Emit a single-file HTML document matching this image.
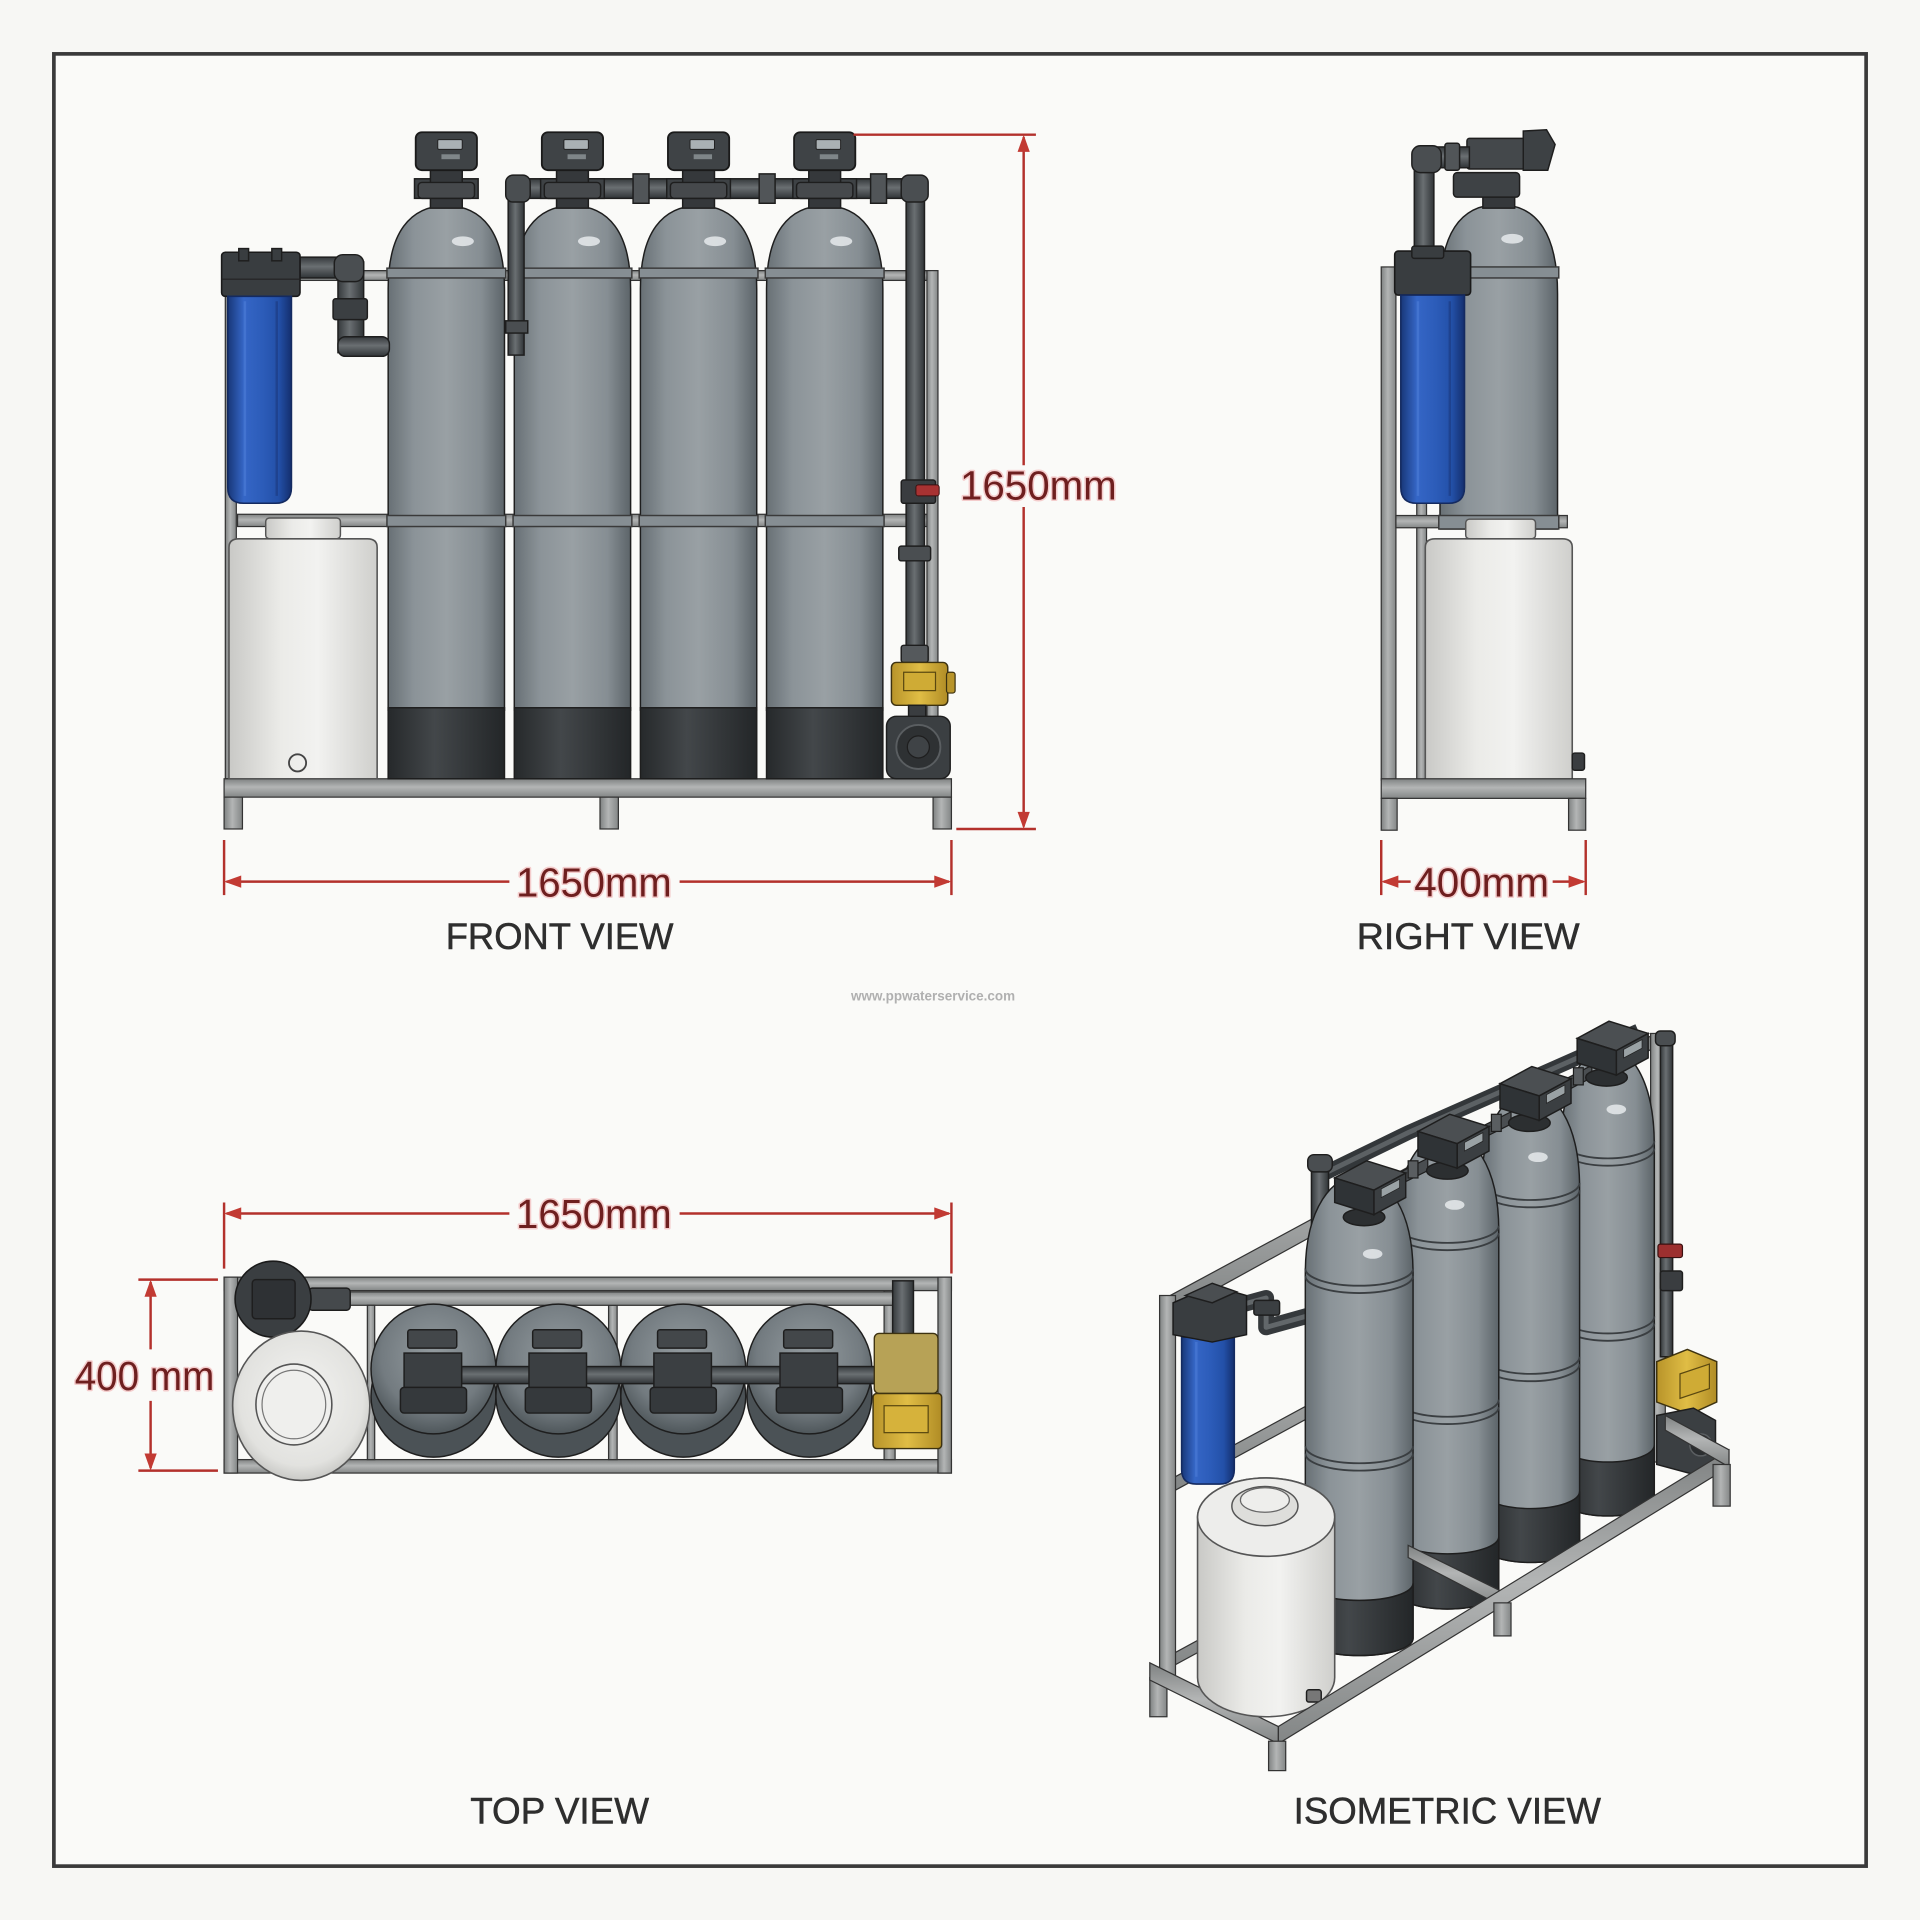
<!DOCTYPE html>
<html><head><meta charset="utf-8"><title>Water treatment system - views</title>
<style>
html,body{margin:0;padding:0;background:#f7f7f4;}
svg{display:block;}
.lbl{font-family:"Liberation Sans",Arial,sans-serif;font-size:30px;fill:#2e2e2e;stroke:#2e2e2e;stroke-width:0.4px;}
.dim{font-family:"Liberation Sans",Arial,sans-serif;font-size:33px;fill:#6e1f1f;stroke:#f4cccc;stroke-width:2.5px;paint-order:stroke;stroke-linejoin:round;}
.dl{stroke:#b3312c;stroke-width:2;fill:none;}
.ah{fill:#c23a33;}
.fr{stroke:#333;stroke-width:1;}
.ol{stroke:#1e1e1e;stroke-width:1.2;}
</style></head><body>
<svg width="1920" height="1920" viewBox="0 0 1568 1568">
<defs>
<linearGradient id="tg" x1="0" y1="0" x2="1" y2="0">
<stop offset="0" stop-color="#687075"/><stop offset="0.22" stop-color="#8b9398"/><stop offset="0.5" stop-color="#99a0a4"/><stop offset="0.8" stop-color="#868e93"/><stop offset="1" stop-color="#5c6469"/>
</linearGradient>
<linearGradient id="dg" x1="0" y1="0" x2="1" y2="0">
<stop offset="0" stop-color="#26292b"/><stop offset="0.4" stop-color="#43474a"/><stop offset="1" stop-color="#232628"/>
</linearGradient>
<linearGradient id="bg" x1="0" y1="0" x2="1" y2="0">
<stop offset="0" stop-color="#183778"/><stop offset="0.25" stop-color="#3566c6"/><stop offset="0.55" stop-color="#2c5cb9"/><stop offset="0.8" stop-color="#2350a8"/><stop offset="1" stop-color="#142f6e"/>
</linearGradient>
<linearGradient id="wg" x1="0" y1="0" x2="1" y2="0">
<stop offset="0" stop-color="#c9c9c6"/><stop offset="0.35" stop-color="#ebebe8"/><stop offset="0.6" stop-color="#f2f2f0"/><stop offset="1" stop-color="#cfcfcc"/>
</linearGradient>
<linearGradient id="fh" x1="0" y1="0" x2="0" y2="1">
<stop offset="0" stop-color="#7f8282"/><stop offset="0.45" stop-color="#b3b5b5"/><stop offset="1" stop-color="#838686"/>
</linearGradient>
<linearGradient id="fv" x1="0" y1="0" x2="1" y2="0">
<stop offset="0" stop-color="#7f8282"/><stop offset="0.45" stop-color="#b3b5b5"/><stop offset="1" stop-color="#838686"/>
</linearGradient>
<linearGradient id="ph" x1="0" y1="0" x2="0" y2="1">
<stop offset="0" stop-color="#35393c"/><stop offset="0.45" stop-color="#6a6f72"/><stop offset="1" stop-color="#303437"/>
</linearGradient>
<linearGradient id="pv" x1="0" y1="0" x2="1" y2="0">
<stop offset="0" stop-color="#35393c"/><stop offset="0.45" stop-color="#6a6f72"/><stop offset="1" stop-color="#303437"/>
</linearGradient>
<linearGradient id="yg" x1="0" y1="0" x2="1" y2="0">
<stop offset="0" stop-color="#b8942a"/><stop offset="0.5" stop-color="#e0bd45"/><stop offset="1" stop-color="#b08c25"/>
</linearGradient>
<radialGradient id="rg" cx="0.5" cy="0.4" r="0.6">
<stop offset="0" stop-color="#949ca0"/><stop offset="0.7" stop-color="#737b80"/><stop offset="1" stop-color="#4f575b"/>
</radialGradient>
<radialGradient id="rw" cx="0.5" cy="0.45" r="0.6">
<stop offset="0" stop-color="#f4f4f2"/><stop offset="0.75" stop-color="#e2e2df"/><stop offset="1" stop-color="#bdbdba"/>
</radialGradient>

<g id="fhead">
<rect x="-26" y="146" width="52" height="16" fill="#3e4245" class="ol"/>
<rect x="-13" y="138" width="26" height="32" fill="#35383b" class="ol"/>
<rect x="-23" y="149" width="46" height="13" rx="3" fill="#46494c" class="ol"/>
<rect x="-25" y="108" width="50" height="31" rx="5" fill="#3f4346" stroke="#1a1a1a" stroke-width="1.5"/>
<rect x="-7" y="114" width="20" height="8" rx="1" fill="#aab1b4" stroke="#222" stroke-width="0.8"/>
<rect x="-4" y="126" width="15" height="4" fill="#7f8689"/>
</g>

<g id="ihead">
<ellipse cx="-6" cy="24" rx="17" ry="7" fill="#2c2f31" class="ol"/>
<polygon points="-30,-8 -4,-22 28,-12 2,2" fill="#4b4f52" class="ol"/>
<polygon points="2,2 28,-12 28,8 2,22" fill="#3b3f42" class="ol"/>
<polygon points="-30,-8 2,2 2,22 -30,12" fill="#2f3336" class="ol"/>
<polygon points="8,1 23,-7 23,0 8,8" fill="#9aa2a5" stroke="#222" stroke-width="0.6"/>
</g>

<g id="ttop">
<ellipse cx="0" cy="22" rx="51" ry="50" fill="#4b5256" class="ol"/>
<ellipse cx="0" cy="0" rx="51" ry="53" fill="url(#rg)" class="ol"/>
</g>
<g id="thead">
<rect x="-21" y="-32" width="40" height="15" rx="2" fill="#43474a" class="ol"/>
<rect x="-24" y="-13" width="47" height="40" fill="#3b3f42" class="ol"/>
<rect x="-27" y="15" width="54" height="21" rx="3" fill="#35393c" class="ol"/>
</g>
</defs>

<rect width="1568" height="1568" fill="#f7f7f4"/>
<rect x="44" y="44" width="1480" height="1480" fill="#fafaf8" stroke="#3a3a3a" stroke-width="3"/>

<!-- ================= FRONT VIEW ================= -->
<g>
<rect x="194" y="221" width="570" height="8" fill="url(#fh)" class="fr"/>
<rect x="194" y="420" width="570" height="10" fill="url(#fh)" class="fr"/>
<rect x="184" y="232" width="9" height="404" fill="url(#fv)" class="fr"/>
<rect x="757" y="221" width="9" height="415" fill="url(#fv)" class="fr"/>
<rect x="183" y="636" width="594" height="15" fill="url(#fh)" class="fr"/>
<rect x="183" y="651" width="15" height="26" fill="url(#fv)" class="fr"/>
<rect x="490" y="651" width="15" height="26" fill="url(#fv)" class="fr"/>
<rect x="762" y="651" width="15" height="26" fill="url(#fv)" class="fr"/>

<!-- tanks -->
<path d="M317,236 C317,190 335,168 364.5,168 C394,168 412,190 412,236 L412,580 L317,580 Z" fill="url(#tg)" class="ol"/>
<path d="M420,236 C420,190 438,168 467.5,168 C497,168 515,190 515,236 L515,580 L420,580 Z" fill="url(#tg)" class="ol"/>
<path d="M523,236 C523,190 541,168 570.5,168 C600,168 618,190 618,236 L618,580 L523,580 Z" fill="url(#tg)" class="ol"/>
<path d="M626,236 C626,190 644,168 673.5,168 C703,168 721,190 721,236 L721,580 L626,580 Z" fill="url(#tg)" class="ol"/>
<rect x="317" y="578" width="95" height="58" fill="url(#dg)" class="ol"/>
<rect x="420" y="578" width="95" height="58" fill="url(#dg)" class="ol"/>
<rect x="523" y="578" width="95" height="58" fill="url(#dg)" class="ol"/>
<rect x="626" y="578" width="95" height="58" fill="url(#dg)" class="ol"/>
<g fill="#868e93" stroke="#3a3a3a" stroke-width="1.2">
<rect x="316" y="219" width="97" height="8"/><rect x="419" y="219" width="97" height="8"/><rect x="522" y="219" width="97" height="8"/><rect x="625" y="219" width="97" height="8"/>
<rect x="316" y="421" width="97" height="9"/><rect x="419" y="421" width="97" height="9"/><rect x="522" y="421" width="97" height="9"/><rect x="625" y="421" width="97" height="9"/>
</g>
<g fill="#e6eaec" opacity="0.85">
<ellipse cx="378" cy="197" rx="9" ry="4"/><ellipse cx="481" cy="197" rx="9" ry="4"/><ellipse cx="584" cy="197" rx="9" ry="4"/><ellipse cx="687" cy="197" rx="9" ry="4"/>
</g>

<!-- pipes -->
<rect x="418" y="146" width="332" height="16" fill="url(#ph)" class="ol"/>
<rect x="415" y="150" width="13" height="140" fill="url(#pv)" class="ol"/>
<rect x="413" y="143" width="20" height="22" rx="6" fill="#4a4e51" class="ol"/>
<rect x="413" y="262" width="18" height="10" fill="#4a4e51" class="ol"/>
<rect x="740" y="150" width="15" height="395" fill="url(#pv)" class="ol"/>
<rect x="736" y="143" width="22" height="22" rx="6" fill="#4a4e51" class="ol"/>
<g fill="#515558" class="ol">
<rect x="517" y="142" width="13" height="24"/><rect x="620" y="142" width="13" height="24"/><rect x="711" y="142" width="13" height="24"/>
</g>
<use href="#fhead" x="364.5"/><use href="#fhead" x="467.5"/><use href="#fhead" x="570.5"/><use href="#fhead" x="673.5"/>

<rect x="736" y="392" width="28" height="19" rx="2" fill="#3a3d40" class="ol"/>
<rect x="748" y="396" width="19" height="9" rx="2" fill="#a83232" stroke="#3a1010" stroke-width="0.8"/>
<rect x="734" y="446" width="26" height="12" rx="2" fill="#4a4e51" class="ol"/>
<rect x="736" y="527" width="22" height="14" rx="2" fill="#55595c" class="ol"/>
<rect x="728" y="541" width="46" height="35" rx="4" fill="url(#yg)" stroke="#3d3210" stroke-width="1.2"/>
<rect x="738" y="549" width="26" height="15" fill="#cfab35" stroke="#5a4810" stroke-width="1"/>
<rect x="773" y="549" width="7" height="17" rx="2" fill="#b8942a" stroke="#3d3210"/>
<rect x="742" y="576" width="14" height="10" fill="#3a3d40" class="ol"/>
<rect x="724" y="585" width="52" height="51" rx="8" fill="#3b3f42" class="ol"/>
<circle cx="750" cy="610" r="18" fill="#2e3133" stroke="#5a5e61" stroke-width="1.5"/>
<circle cx="750" cy="610" r="9" fill="#3f4346" stroke="#1e1e1e"/>

<!-- filter -->
<rect x="245" y="210" width="46" height="17" fill="url(#ph)" class="ol"/>
<rect x="276" y="214" width="21" height="74" fill="url(#pv)" class="ol"/>
<rect x="273" y="208" width="24" height="22" rx="7" fill="#4a4e51" class="ol"/>
<rect x="272" y="244" width="28" height="17" rx="2" fill="#3b3f42" class="ol"/>
<rect x="276" y="275" width="42" height="16" rx="6" fill="url(#ph)" class="ol"/>
<rect x="181" y="206" width="64" height="36" rx="3" fill="#393d40" stroke="#1a1a1a" stroke-width="1.3"/>
<rect x="195" y="203" width="8" height="10" fill="#393d40" class="ol"/>
<rect x="222" y="203" width="8" height="10" fill="#393d40" class="ol"/>
<line x1="181" y1="228" x2="245" y2="228" stroke="#222" stroke-width="1"/>
<path d="M186,242 L238,242 L238,398 Q238,411 225,411 L199,411 Q186,411 186,398 Z" fill="url(#bg)" stroke="#142a60" stroke-width="1.3"/>
<line x1="200" y1="246" x2="200" y2="405" stroke="#4a7ad6" stroke-width="2" opacity="0.7"/>
<line x1="226" y1="246" x2="226" y2="405" stroke="#1d3d85" stroke-width="2" opacity="0.7"/>

<!-- white tank -->
<rect x="217" y="423" width="61" height="17" rx="3" fill="url(#wg)" stroke="#555" stroke-width="1.2"/>
<path d="M187,447 Q187,440 195,440 L300,440 Q308,440 308,447 L308,636 L187,636 Z" fill="url(#wg)" stroke="#555" stroke-width="1.3"/>
<circle cx="243" cy="623" r="7" fill="none" stroke="#444" stroke-width="1.5"/>
</g>

<!-- front dims -->
<g>
<line x1="183" y1="686" x2="183" y2="731" class="dl"/>
<line x1="777" y1="686" x2="777" y2="731" class="dl"/>
<line x1="185" y1="720" x2="416" y2="720" class="dl"/>
<line x1="555" y1="720" x2="775" y2="720" class="dl"/>
<polygon points="183,720 197,715 197,725" class="ah"/>
<polygon points="777,720 763,715 763,725" class="ah"/>
<text x="485" y="732" text-anchor="middle" class="dim" textLength="127" lengthAdjust="spacingAndGlyphs">1650mm</text>
<line x1="697" y1="110" x2="846" y2="110" class="dl"/>
<line x1="781" y1="677" x2="846" y2="677" class="dl"/>
<line x1="836" y1="112" x2="836" y2="380" class="dl"/>
<line x1="836" y1="414" x2="836" y2="675" class="dl"/>
<polygon points="836,110 831,124 841,124" class="ah"/>
<polygon points="836,677 831,663 841,663" class="ah"/>
<text x="848" y="408" text-anchor="middle" class="dim" textLength="128" lengthAdjust="spacingAndGlyphs">1650mm</text>
<text x="457" y="775" text-anchor="middle" class="lbl" textLength="186" lengthAdjust="spacingAndGlyphs">FRONT VIEW</text>
</g>

<!-- ================= RIGHT VIEW ================= -->
<g>
<rect x="1128" y="218" width="12" height="419" fill="url(#fv)" class="fr"/>
<rect x="1157" y="411" width="8" height="226" fill="url(#fv)" class="fr"/>
<rect x="1140" y="421" width="140" height="10" fill="url(#fh)" class="fr"/>
<path d="M1176,240 C1176,192 1192,167 1224,167 C1256,167 1272,192 1272,240 L1272,432 L1176,432 Z" fill="url(#tg)" class="ol"/>
<rect x="1175" y="218" width="98" height="9" fill="#868e93" stroke="#3a3a3a" stroke-width="1.2"/>
<rect x="1175" y="421" width="98" height="11" fill="#868e93" stroke="#3a3a3a" stroke-width="1.2"/>
<ellipse cx="1235" cy="195" rx="9" ry="4" fill="#e6eaec" opacity="0.85"/>
<!-- valve -->
<rect x="1211" y="156" width="26" height="14" fill="#35383b" class="ol"/>
<rect x="1187" y="141" width="54" height="20" rx="3" fill="#3e4245" class="ol"/>
<rect x="1198" y="113" width="50" height="25" rx="2" fill="#44484b" class="ol"/>
<polygon points="1244,107 1263,106 1270,118 1264,139 1244,139" fill="#3d4144" class="ol"/>
<!-- pipe -->
<rect x="1155" y="132" width="16" height="76" fill="url(#pv)" class="ol"/>
<rect x="1165" y="120" width="35" height="17" fill="url(#ph)" class="ol"/>
<rect x="1153" y="119" width="24" height="22" rx="7" fill="#4a4e51" class="ol"/>
<rect x="1180" y="117" width="12" height="22" rx="2" fill="#515558" class="ol"/>
<!-- filter -->
<rect x="1139" y="205" width="62" height="36" rx="3" fill="#393d40" stroke="#1a1a1a" stroke-width="1.3"/>
<rect x="1153" y="201" width="26" height="10" rx="2" fill="#393d40" class="ol"/>
<path d="M1144,241 L1196,241 L1196,398 Q1196,411 1183,411 L1157,411 Q1144,411 1144,398 Z" fill="url(#bg)" stroke="#142a60" stroke-width="1.3"/>
<line x1="1158" y1="246" x2="1158" y2="405" stroke="#4a7ad6" stroke-width="2" opacity="0.7"/>
<line x1="1184" y1="246" x2="1184" y2="405" stroke="#1d3d85" stroke-width="2" opacity="0.7"/>
<!-- white tank -->
<rect x="1197" y="424" width="57" height="16" rx="3" fill="url(#wg)" stroke="#555" stroke-width="1.2"/>
<path d="M1164,447 Q1164,440 1172,440 L1276,440 Q1284,440 1284,447 L1284,637 L1164,637 Z" fill="url(#wg)" stroke="#555" stroke-width="1.3"/>
<rect x="1284" y="615" width="10" height="14" rx="2" fill="#3a3d40" class="ol"/>
<!-- base -->
<rect x="1128" y="636" width="167" height="16" fill="url(#fh)" class="fr"/>
<rect x="1128" y="652" width="13" height="26" fill="url(#fv)" class="fr"/>
<rect x="1281" y="652" width="14" height="26" fill="url(#fv)" class="fr"/>
</g>
<g>
<line x1="1128" y1="686" x2="1128" y2="731" class="dl"/>
<line x1="1295" y1="686" x2="1295" y2="731" class="dl"/>
<line x1="1130" y1="720" x2="1152" y2="720" class="dl"/>
<line x1="1268" y1="720" x2="1293" y2="720" class="dl"/>
<polygon points="1128,720 1142,715 1142,725" class="ah"/>
<polygon points="1295,720 1281,715 1281,725" class="ah"/>
<text x="1210" y="732" text-anchor="middle" class="dim" textLength="110" lengthAdjust="spacingAndGlyphs">400mm</text>
<text x="1199" y="775" text-anchor="middle" class="lbl" textLength="182" lengthAdjust="spacingAndGlyphs">RIGHT VIEW</text>
</g>

<text x="762" y="817" text-anchor="middle" font-family="Liberation Sans, Arial, sans-serif" font-size="11" font-weight="bold" fill="#b0b0b0">www.ppwaterservice.com</text>

<!-- ================= TOP VIEW ================= -->
<g>
<rect x="183" y="1043" width="594" height="11" fill="url(#fh)" class="fr"/>
<rect x="183" y="1192" width="594" height="11" fill="url(#fh)" class="fr"/>
<rect x="183" y="1043" width="11" height="160" fill="url(#fv)" class="fr"/>
<rect x="766" y="1043" width="11" height="160" fill="url(#fv)" class="fr"/>
<rect x="722" y="1054" width="9" height="138" fill="url(#fv)" class="fr"/>
<rect x="497" y="1066" width="7" height="126" fill="url(#fv)" class="fr"/>
<rect x="194" y="1055" width="535" height="11" fill="url(#fh)" class="fr"/>
<rect x="300" y="1066" width="6" height="126" fill="url(#fv)" class="fr"/>
<!-- filter -->
<rect x="252" y="1052" width="34" height="18" rx="3" fill="#45494c" class="ol"/>
<circle cx="223" cy="1061" r="31" fill="#3a3e41" stroke="#1a1a1a" stroke-width="1.3"/>
<rect x="206" y="1045" width="35" height="32" rx="3" fill="#2e3134" class="ol"/>
<!-- white disc -->
<ellipse cx="246" cy="1148" rx="56" ry="61" fill="url(#rw)" stroke="#555" stroke-width="1.3"/>
<ellipse cx="240" cy="1147" rx="31" ry="33" fill="#efefed" stroke="#555" stroke-width="1.3"/>
<ellipse cx="240" cy="1147" rx="26" ry="28" fill="none" stroke="#777" stroke-width="1"/>
<!-- tanks -->
<use href="#ttop" x="354" y="1118"/><use href="#ttop" x="456" y="1118"/><use href="#ttop" x="558" y="1118"/><use href="#ttop" x="661" y="1118"/>
<rect x="377" y="1116" width="366" height="14" fill="url(#ph)" class="ol"/>
<rect x="729" y="1046" width="17" height="74" fill="url(#pv)" class="ol"/>
<use href="#thead" x="354" y="1118"/><use href="#thead" x="456" y="1118"/><use href="#thead" x="558" y="1118"/><use href="#thead" x="661" y="1118"/>
<!-- pump -->
<rect x="714" y="1089" width="52" height="49" rx="4" fill="#b7a256" stroke="#3d3210" stroke-width="1.1"/>
<rect x="713" y="1138" width="56" height="45" rx="3" fill="url(#yg)" stroke="#3d3210" stroke-width="1.2"/>
<rect x="722" y="1148" width="36" height="22" fill="#d6b23b" stroke="#5a4810"/>
</g>
<g>
<line x1="183" y1="982" x2="183" y2="1036" class="dl"/>
<line x1="777" y1="982" x2="777" y2="1040" class="dl"/>
<line x1="185" y1="991" x2="416" y2="991" class="dl"/>
<line x1="555" y1="991" x2="775" y2="991" class="dl"/>
<polygon points="183,991 197,986 197,996" class="ah"/>
<polygon points="777,991 763,986 763,996" class="ah"/>
<text x="485" y="1003" text-anchor="middle" class="dim" textLength="127" lengthAdjust="spacingAndGlyphs">1650mm</text>
<line x1="113" y1="1045" x2="178" y2="1045" class="dl"/>
<line x1="113" y1="1201" x2="178" y2="1201" class="dl"/>
<line x1="123" y1="1047" x2="123" y2="1102" class="dl"/>
<line x1="123" y1="1144" x2="123" y2="1199" class="dl"/>
<polygon points="123,1045 118,1059 128,1059" class="ah"/>
<polygon points="123,1201 118,1187 128,1187" class="ah"/>
<text x="118" y="1135" text-anchor="middle" class="dim" textLength="114" lengthAdjust="spacingAndGlyphs">400 mm</text>
<text x="457" y="1489" text-anchor="middle" class="lbl" textLength="146" lengthAdjust="spacingAndGlyphs">TOP VIEW</text>
</g>

<!-- ================= ISOMETRIC VIEW ================= -->
<g>
<!-- back frame -->
<polygon points="948,1356 1352,1136 1352,1146 948,1366" fill="url(#fh)" class="fr"/>
<polygon points="952,1060 1352,844 1352,855 958,1072" fill="url(#fh)" class="fr"/>
<polygon points="958,1207 1352,994 1352,1004 958,1218" fill="url(#fh)" class="fr"/>
<rect x="1348" y="844" width="12" height="350" fill="url(#fv)" class="fr"/>
<rect x="947" y="1058" width="13" height="314" fill="url(#fv)" class="fr"/>
<rect x="939" y="1370" width="14" height="32" fill="url(#fv)" class="fr"/>
<polygon points="939,1358 1044,1410 1044,1424 939,1372" fill="url(#fh)" class="fr"/>
<!-- top pipe -->
<polyline points="1078,960 1150,925 1338,842" fill="none" stroke="#33373a" stroke-width="12"/>
<polyline points="1078,960 1150,925 1338,842" fill="none" stroke="#5c6164" stroke-width="4"/>
<rect x="1071" y="947" width="14" height="58" fill="url(#pv)" class="ol"/>
<rect x="1068" y="943" width="20" height="14" rx="5" fill="#4a4e51" class="ol"/>
<!-- filter pipe -->
<path d="M1012,1066 L1034,1060 L1034,1084 L1070,1074" fill="none" stroke="#35393c" stroke-width="13" stroke-linejoin="round"/>
<path d="M1012,1066 L1034,1060 L1034,1084 L1070,1074" fill="none" stroke="#62676a" stroke-width="4" stroke-linejoin="round"/>
<rect x="1024" y="1062" width="21" height="12" rx="2" fill="#3b3f42" class="ol"/>

<!-- T4 -->
<path d="M1275,935 C1275,880 1296,855 1313,855 C1330,855 1351,880 1351,935 L1351,1224 A38,14 0 0 1 1275,1224 Z" fill="url(#tg)" class="ol"/>
<path d="M1275,1180 A38,14 0 0 0 1351,1180 L1351,1224 A38,14 0 0 1 1275,1224 Z" fill="url(#dg)" class="ol"/>
<path d="M1275,932 A38,14 0 0 0 1351,932 M1275,938 A38,14 0 0 0 1351,938 M1275,1075 A38,14 0 0 0 1351,1075 M1275,1081 A38,14 0 0 0 1351,1081" fill="none" stroke="#3a3e41" stroke-width="1.5"/>
<ellipse cx="1320" cy="906" rx="8" ry="4" fill="#e6eaec" opacity="0.85"/>
<!-- T3 -->
<path d="M1210,970 C1210,915 1232,890 1250,890 C1268,890 1290,915 1290,970 L1290,1262 A40,14 0 0 1 1210,1262 Z" fill="url(#tg)" class="ol"/>
<path d="M1210,1218 A40,14 0 0 0 1290,1218 L1290,1262 A40,14 0 0 1 1210,1262 Z" fill="url(#dg)" class="ol"/>
<path d="M1210,966 A40,14 0 0 0 1290,966 M1210,972 A40,14 0 0 0 1290,972 M1210,1108 A40,14 0 0 0 1290,1108 M1210,1114 A40,14 0 0 0 1290,1114" fill="none" stroke="#3a3e41" stroke-width="1.5"/>
<ellipse cx="1256" cy="945" rx="8" ry="4" fill="#e6eaec" opacity="0.85"/>
<!-- T2 -->
<path d="M1140,1005 C1140,950 1163,925 1182,925 C1201,925 1224,950 1224,1005 L1224,1300 A42,14 0 0 1 1140,1300 Z" fill="url(#tg)" class="ol"/>
<path d="M1140,1255 A42,14 0 0 0 1224,1255 L1224,1300 A42,14 0 0 1 1140,1300 Z" fill="url(#dg)" class="ol"/>
<path d="M1140,1001 A42,14 0 0 0 1224,1001 M1140,1007 A42,14 0 0 0 1224,1007 M1140,1143 A42,14 0 0 0 1224,1143 M1140,1149 A42,14 0 0 0 1224,1149" fill="none" stroke="#3a3e41" stroke-width="1.5"/>
<ellipse cx="1188" cy="984" rx="8" ry="4" fill="#e6eaec" opacity="0.85"/>
<!-- T1 -->
<path d="M1066,1040 C1066,985 1089,960 1110,960 C1131,960 1154,985 1154,1040 L1154,1338 A44,14 0 0 1 1066,1338 Z" fill="url(#tg)" class="ol"/>
<path d="M1066,1293 A44,14 0 0 0 1154,1293 L1154,1338 A44,14 0 0 1 1066,1338 Z" fill="url(#dg)" class="ol"/>
<path d="M1066,1036 A44,14 0 0 0 1154,1036 M1066,1042 A44,14 0 0 0 1154,1042 M1066,1181 A44,14 0 0 0 1154,1181 M1066,1187 A44,14 0 0 0 1154,1187" fill="none" stroke="#3a3e41" stroke-width="1.5"/>
<ellipse cx="1121" cy="1024" rx="8" ry="4" fill="#e6eaec" opacity="0.85"/>
<!-- pipes between heads -->
<g stroke="#1e1e1e" stroke-width="1">
<polygon points="1142,958 1166,946 1166,956 1142,968" fill="#4a4e51"/>
<polygon points="1210,920 1234,908 1234,918 1210,930" fill="#4a4e51"/>
<polygon points="1277,882 1300,870 1300,880 1277,892" fill="#4a4e51"/>
<rect x="1150" y="948" width="8" height="14" fill="#5a5e61"/>
<rect x="1218" y="910" width="8" height="14" fill="#5a5e61"/>
<rect x="1285" y="872" width="8" height="14" fill="#5a5e61"/>
</g>
<!-- heads -->
<use href="#ihead" x="1318" y="856"/>
<use href="#ihead" x="1255" y="893"/>
<use href="#ihead" x="1188" y="932"/>
<use href="#ihead" x="1120" y="970"/>
<!-- right pipe and valves -->
<rect x="1356" y="846" width="10" height="262" fill="url(#pv)" class="ol"/>
<rect x="1352" y="842" width="16" height="12" rx="4" fill="#4a4e51" class="ol"/>
<rect x="1354" y="1016" width="20" height="11" rx="2" fill="#9c2f2f" stroke="#3a1010"/>
<rect x="1356" y="1038" width="18" height="16" rx="2" fill="#3a3d40" class="ol"/>
<!-- pump -->
<polygon points="1353,1112 1378,1102 1402,1112 1402,1145 1380,1155 1353,1145" fill="url(#yg)" stroke="#3d3210" stroke-width="1.2"/>
<polygon points="1372,1122 1396,1114 1396,1134 1372,1142" fill="#cfab35" stroke="#5a4810"/>
<polygon points="1353,1156 1383,1150 1401,1160 1401,1194 1383,1204 1353,1196" fill="#3b3f42" class="ol"/>
<circle cx="1389" cy="1180" r="9" fill="#2b2e30" stroke="#5a5e61" stroke-width="1.2"/>
<!-- filter -->
<path d="M965,1092 L1008,1092 L1008,1200 Q1008,1212 996,1212 L977,1212 Q965,1212 965,1200 Z" fill="url(#bg)" stroke="#142a60" stroke-width="1.3"/>
<line x1="977" y1="1096" x2="977" y2="1206" stroke="#4a7ad6" stroke-width="2" opacity="0.7"/>
<polygon points="958,1064 990,1050 1018,1058 1018,1090 990,1096 958,1090" fill="#393d40" stroke="#1a1a1a" stroke-width="1.2"/>
<polygon points="968,1058 990,1048 1010,1055 990,1064" fill="#4a4e51" class="ol"/>
<!-- white tank -->
<path d="M978,1239 L978,1370 A56,32 0 0 0 1090,1370 L1090,1239 A56,32 0 0 0 978,1239 Z" fill="url(#wg)" stroke="#555" stroke-width="1.3"/>
<ellipse cx="1034" cy="1239" rx="56" ry="32" fill="#ededeb" stroke="#555" stroke-width="1.3"/>
<ellipse cx="1033" cy="1230" rx="27" ry="16" fill="#dededb" stroke="#555" stroke-width="1.2"/>
<ellipse cx="1033" cy="1225" rx="20" ry="10" fill="#eeeeec" stroke="#666" stroke-width="1"/>
<rect x="1067" y="1380" width="12" height="10" rx="2" fill="#777" class="ol"/>
<!-- front frame -->
<polygon points="1227,1300 1150,1262 1150,1272 1227,1312" fill="url(#fh)" class="fr"/>
<polygon points="1044,1410 1412,1184 1412,1198 1044,1424" fill="url(#fh)" class="fr"/>
<polygon points="1412,1184 1360,1156 1360,1168 1412,1198" fill="url(#fh)" class="fr"/>
<rect x="1036" y="1422" width="14" height="24" fill="url(#fv)" class="fr"/>
<rect x="1220" y="1309" width="14" height="27" fill="url(#fv)" class="fr"/>
<rect x="1399" y="1196" width="14" height="34" fill="url(#fv)" class="fr"/>
<text x="1182" y="1489" text-anchor="middle" class="lbl" textLength="251" lengthAdjust="spacingAndGlyphs">ISOMETRIC VIEW</text>
</g>
</svg>
</body></html>
